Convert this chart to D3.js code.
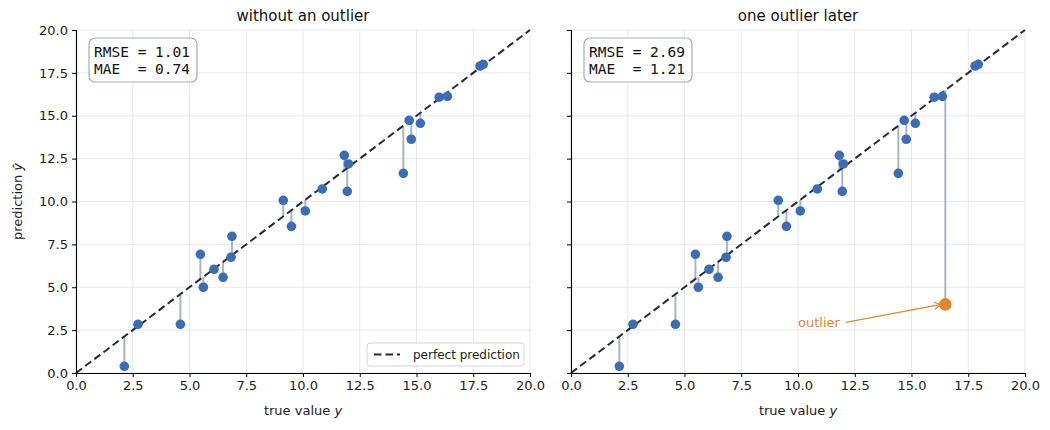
<!DOCTYPE html>
<html>
<head>
<meta charset="utf-8">
<script src="https://cdn.jsdelivr.net/npm/d3@7"></script>
<style>
  body { margin: 0; background: #fff; }
  svg text { font-family: "DejaVu Sans", sans-serif; }
  svg text.mono { font-family: "DejaVu Sans Mono", monospace; white-space: pre; }
</style>
</head>
<body>
<script>
// true values and predictions
var trueVals = [2.13, 2.73, 4.60, 5.48, 5.61, 6.08, 6.48, 6.87, 6.83, 9.13, 9.49, 10.10,
                10.85, 11.82, 12.00, 11.95, 14.42, 14.68, 14.77, 15.17, 16.00, 16.36, 17.80, 17.94];
var predVals = [0.39, 2.84, 2.84, 6.92, 5.00, 6.05, 5.58, 7.97, 6.75, 10.07, 8.55, 9.45,
                10.73, 12.69, 12.19, 10.59, 11.64, 14.73, 13.63, 14.56, 16.08, 16.13, 17.90, 18.00];
var outlierTrue = [16.49];
var outlierPred = [4.0];

var panelTitles = ['without an outlier', 'one outlier later'];
var statLines = [['RMSE = 1.01', 'MAE  = 0.74'], ['RMSE = 2.69', 'MAE  = 1.21']];
var tickVals = [0, 2.5, 5, 7.5, 10, 12.5, 15, 17.5, 20];

var width = 1050, height = 430;
var panels = [{left: 76, hasOutlier: false}, {left: 571, hasOutlier: true}];
var plotW = 454, plotTop = 30, plotH = 343;

var blue = '#3a6db5', orange = '#e0872e', stem = '#aab5c2', diag = '#252b35';

var svg = d3.select('body').append('svg')
    .attr('width', width)
    .attr('height', height);

svg.append('defs').append('marker')
    .attr('id', 'arrow')
    .attr('viewBox', '0 0 10 10')
    .attr('refX', 9).attr('refY', 5)
    .attr('markerWidth', 9).attr('markerHeight', 9)
    .attr('markerUnits', 'userSpaceOnUse')
    .attr('orient', 'auto')
    .append('path')
    .attr('d', 'M1,1 L9,5 L1,9')
    .attr('fill', 'none')
    .attr('stroke', orange)
    .attr('stroke-width', 1.3);

panels.forEach(function(p, k){
    var x = d3.scaleLinear().domain([0, 20]).range([0, plotW]);
    var y = d3.scaleLinear().domain([0, 20]).range([plotH, 0]);

    var g = svg.append('g').attr('transform', 'translate(' + p.left + ',' + plotTop + ')');

    // grid
    g.append('g').selectAll('line').data(tickVals).enter().append('line')
        .attr('x1', function(d){ return x(d); }).attr('x2', function(d){ return x(d); })
        .attr('y1', 0).attr('y2', plotH)
        .attr('stroke', '#e3e3e3').attr('stroke-width', 0.8);
    g.append('g').selectAll('line').data(tickVals).enter().append('line')
        .attr('y1', function(d){ return y(d); }).attr('y2', function(d){ return y(d); })
        .attr('x1', 0).attr('x2', plotW)
        .attr('stroke', '#e3e3e3').attr('stroke-width', 0.8);

    var pts = trueVals.map(function(t, i){ return {t: t, p: predVals[i]}; });
    var outs = p.hasOutlier ? outlierTrue.map(function(t, i){ return {t: t, p: outlierPred[i]}; }) : [];

    // residual stems
    g.append('g').selectAll('line').data(pts.concat(outs)).enter().append('line')
        .attr('x1', function(d){ return x(d.t); }).attr('x2', function(d){ return x(d.t); })
        .attr('y1', function(d){ return y(d.p); }).attr('y2', function(d){ return y(d.t); })
        .attr('stroke', stem).attr('stroke-width', 2);

    // perfect prediction line
    g.append('line')
        .attr('x1', x(0)).attr('y1', y(0)).attr('x2', x(20)).attr('y2', y(20))
        .attr('stroke', diag).attr('stroke-width', 2)
        .attr('stroke-dasharray', '7.5,4');

    g.append('g').selectAll('circle').data(pts).enter().append('circle')
        .attr('cx', function(d){ return x(d.t); })
        .attr('cy', function(d){ return y(d.p); })
        .attr('r', 4.8)
        .attr('fill', blue);

    g.append('g').selectAll('circle').data(outs).enter().append('circle')
        .attr('cx', function(d){ return x(d.t); })
        .attr('cy', function(d){ return y(d.p); })
        .attr('r', 6.3)
        .attr('fill', orange);

    if (p.hasOutlier) {
        g.append('text')
            .attr('x', x(10)).attr('y', y(2.5) - 3)
            .attr('font-size', 13).attr('fill', orange)
            .text('outlier');
        g.append('line')
            .attr('x1', x(12.1)).attr('y1', y(2.95))
            .attr('x2', x(outlierTrue[0]) - 4).attr('y2', y(outlierPred[0]))
            .attr('stroke', orange).attr('stroke-width', 1.3)
            .attr('marker-end', 'url(#arrow)');
    }

    // axes
    var xAxis = d3.axisBottom(x).tickValues(tickVals).tickFormat(d3.format('.1f'))
        .tickSizeOuter(0).tickSize(4).tickPadding(4);
    var yAxis = d3.axisLeft(y).tickValues(tickVals).tickFormat(d3.format('.1f'))
        .tickSizeOuter(0).tickSize(4).tickPadding(4);
    if (k === 1) yAxis.tickFormat('');

    var gx = g.append('g').attr('transform', 'translate(0,' + plotH + ')').call(xAxis);
    var gy = g.append('g').call(yAxis);
    [gx, gy].forEach(function(a){
        a.selectAll('text').attr('font-size', 13).attr('fill', '#222');
        a.select('.domain').attr('stroke', '#000').attr('stroke-width', 1.1);
        a.selectAll('.tick line').attr('stroke', '#000');
    });

    // title
    g.append('text')
        .attr('x', plotW / 2).attr('y', -9)
        .attr('text-anchor', 'middle')
        .attr('font-size', 15).attr('fill', '#111')
        .text(panelTitles[k]);

    // x label
    var xl = g.append('text')
        .attr('x', plotW / 2).attr('y', plotH + 42)
        .attr('text-anchor', 'middle')
        .attr('font-size', 13).attr('fill', '#222');
    xl.append('tspan').text('true value ');
    xl.append('tspan').attr('font-style', 'italic').text('y');

    // stats box
    var box = g.append('g').attr('transform', 'translate(13,8)');
    box.append('rect')
        .attr('width', 108).attr('height', 44)
        .attr('rx', 6).attr('ry', 6)
        .attr('fill', '#fff').attr('stroke', '#a3adb9').attr('stroke-width', 1.2);
    box.selectAll('text').data(statLines[k]).enter().append('text')
        .attr('class', 'mono')
        .attr('x', 5).attr('y', function(d, i){ return 19 + i * 17; })
        .attr('font-size', 14.5).attr('fill', '#111')
        .text(function(d){ return d; });

    if (k === 0) {
        var lg = g.append('g').attr('transform', 'translate(' + (plotW - 163) + ',' + (plotH - 30) + ')');
        lg.append('rect')
            .attr('width', 157).attr('height', 23)
            .attr('rx', 3).attr('fill', '#fff').attr('fill-opacity', 0.85)
            .attr('stroke', '#d6d6d6');
        lg.append('line')
            .attr('x1', 7).attr('x2', 33).attr('y1', 11.5).attr('y2', 11.5)
            .attr('stroke', diag).attr('stroke-width', 2)
            .attr('stroke-dasharray', '7.5,4');
        lg.append('text')
            .attr('x', 46).attr('y', 16)
            .attr('font-size', 12).attr('fill', '#222')
            .text('perfect prediction');

        // y label
        var yl = svg.append('text')
            .attr('transform', 'translate(22,' + (plotTop + plotH / 2) + ') rotate(-90)')
            .attr('text-anchor', 'middle')
            .attr('font-size', 13).attr('fill', '#222');
        yl.append('tspan').text('prediction ');
        yl.append('tspan').attr('font-style', 'italic').text('ŷ');
    }
});
</script>
</body>
</html>
